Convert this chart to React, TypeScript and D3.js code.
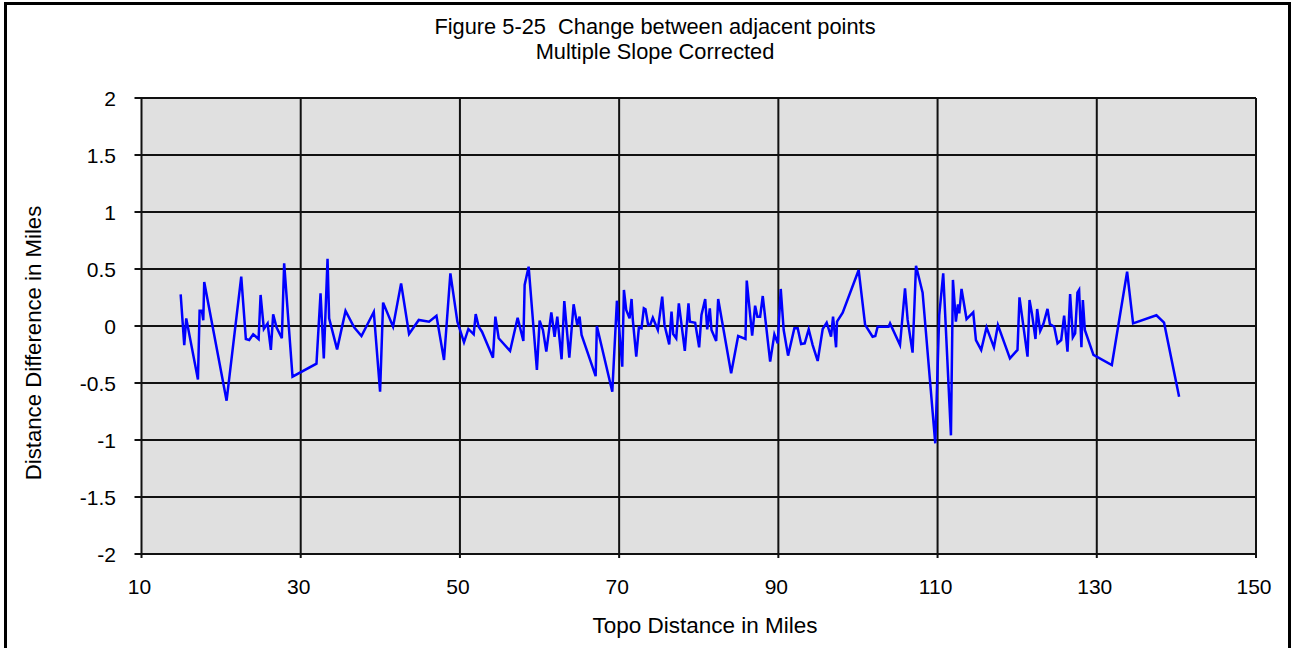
import * as d3 from 'd3';

// Topo distance (miles) and change between adjacent points (miles)
const topoMiles = [
  14.92, 15.37, 15.62, 17.09, 17.3, 17.59, 17.76, 17.88, 20.69, 22.53,
  23.11, 23.53, 24.03, 24.71, 24.96, 25.37, 25.84, 26.25, 26.54, 26.96,
  27.63, 27.92, 28.97, 31.98, 32.49, 32.9, 33.37, 33.57, 34.57, 35.63,
  36.71, 37.63, 39.18, 39.97, 40.35, 41.6, 42.61, 43.61, 44.83, 46.12,
  47.05, 48.0, 48.8, 49.68, 50.51, 51.06, 51.73, 51.98, 52.36, 52.77,
  54.15, 54.45, 54.87, 56.3, 57.25, 57.97, 58.13, 58.63, 59.67, 60.01,
  60.43, 60.85, 61.48, 61.89, 62.23, 62.77, 63.11, 63.74, 64.28, 64.74,
  65.03, 65.28, 67.05, 67.2, 69.14, 69.72, 70.39, 70.6, 70.89, 71.31,
  71.56, 71.72, 72.15, 72.48, 72.81, 73.1, 73.31, 73.65, 73.9, 74.23,
  74.86, 75.41, 75.7, 76.29, 76.58, 76.79, 77.17, 77.5, 78.25, 78.71,
  78.89, 79.55, 80.05, 80.34, 80.81, 81.06, 81.39, 81.6, 82.19, 82.44,
  82.94, 84.07, 84.95, 85.87, 86.03, 86.71, 87.08, 87.37, 87.71, 88.04,
  88.97, 89.5, 89.92, 90.3, 90.67, 91.22, 92.01, 92.43, 92.86, 93.31,
  93.81, 94.31, 94.94, 95.57, 96.07, 96.62, 96.87, 97.25, 97.37, 98.08,
  100.09, 100.9, 101.84, 102.18, 102.47, 103.85, 104.03, 105.28, 105.91, 106.24,
  106.86, 107.29, 108.12, 109.71, 110.21, 110.71, 111.68, 111.93, 112.3, 112.56,
  112.72, 113.01, 113.64, 114.48, 114.82, 115.48, 116.15, 117.08, 117.58, 119.09,
  120.04, 120.29, 121.3, 121.55, 121.85, 122.3, 122.51, 122.89, 123.3, 123.81,
  124.11, 124.65, 125.07, 125.53, 125.9, 126.32, 126.65, 126.99, 127.28, 127.57,
  127.78, 128.07, 128.25, 128.5, 129.58, 131.89, 133.81, 134.56, 137.49, 138.45,
  140.34,
];

const diffMiles = [
  0.278, -0.167, 0.067, -0.47, 0.134, 0.134, 0.05, 0.386, -0.655, 0.433,
  -0.114, -0.123, -0.073, -0.114, 0.272, -0.026, 0.023, -0.21, 0.102, -0.012,
  -0.108, 0.55, -0.444, -0.33, 0.287, -0.284, 0.59, 0.067, -0.205, 0.132,
  -0.012, -0.088, 0.123, -0.576, 0.205, -0.006, 0.374, -0.07, 0.053, 0.038,
  0.09, -0.298, 0.462, 0.038, -0.143, -0.026, -0.073, 0.105, -0.006, -0.05,
  -0.278, 0.082, -0.108, -0.219, 0.073, -0.132, 0.36, 0.52, -0.386, 0.047,
  -0.035, -0.225, 0.12, -0.094, 0.082, -0.292, 0.219, -0.278, 0.19, 0.009,
  0.082, -0.079, -0.44, 0.0, -0.576, 0.222, -0.357, 0.316, 0.14, 0.067,
  0.237, 0.053, -0.269, -0.012, -0.02, 0.155, 0.146, 0.006, 0.009, 0.073,
  -0.035, 0.257, 0.009, -0.161, 0.126, -0.07, -0.108, 0.199, -0.219, 0.199,
  0.038, 0.029, -0.187, 0.096, 0.237, -0.029, 0.155, -0.035, -0.132, 0.237,
  0.038, -0.415, -0.088, -0.114, 0.398, -0.085, 0.178, 0.082, 0.082, 0.263,
  -0.313, -0.073, -0.152, 0.325, -0.035, -0.26, -0.02, -0.02, -0.158, -0.152,
  -0.029, -0.167, -0.307, -0.026, 0.029, -0.094, 0.082, -0.187, 0.038, 0.117,
  0.491, 0.01, -0.094, -0.088, -0.006, -0.006, 0.023, -0.167, 0.33, 0.053,
  -0.234, 0.529, 0.292, -1.029, 0.096, 0.462, -0.959, 0.404, 0.038, 0.19,
  0.111, 0.325, 0.061, 0.12, -0.123, -0.21, -0.012, -0.187, 0.009, -0.284,
  -0.21, 0.251, -0.269, 0.228, 0.111, -0.114, 0.149, -0.044, 0.02, 0.15,
  0.018, -0.006, -0.152, -0.123, 0.09, -0.225, 0.281, -0.099, -0.064, 0.292,
  0.316, -0.187, 0.228, -0.035, -0.254, -0.342, 0.476, 0.023, 0.094, 0.029,
  -0.62,
];

const xTicks = [10, 30, 50, 70, 90, 110, 130, 150];
const yTicks = [-2, -1.5, -1, -0.5, 0, 0.5, 1, 1.5, 2];

const titleLines = ['Figure 5-25  Change between adjacent points', 'Multiple Slope Corrected'];
const xLabel = 'Topo Distance in Miles';
const yLabel = 'Distance Difference in Miles';

const W = 1291;
const H = 648;
const plot = { left: 141.5, right: 1256, top: 98, bottom: 554 };
const font = '"Liberation Sans", Arial, sans-serif';

export default function App() {
  const x = d3.scaleLinear().domain([10, 150]).range([plot.left, plot.right]);
  const y = d3.scaleLinear().domain([-2, 2]).range([plot.bottom, plot.top]);

  const points = topoMiles.map((m, i) => [m, diffMiles[i]] as [number, number]);
  const line = d3.line<[number, number]>()
    .x(d => x(d[0]))
    .y(d => y(d[1]));

  return (
    <svg width={W} height={H} style={{ position: 'absolute', left: 0, top: 0, background: '#fff' }} fontFamily={font}>
      {/* outer frame */}
      <rect x={5.5} y={3.5} width={1284} height={660} fill="none" stroke="#000" strokeWidth={3} />

      {/* title */}
      {titleLines.map((t, i) => (
        <text key={t} x={655} y={34 + i * 25} textAnchor="middle" fontSize={21.8} fill="#000" style={{ whiteSpace: 'pre' }}>{t}</text>
      ))}

      {/* plot area */}
      <rect x={plot.left} y={plot.top} width={plot.right - plot.left} height={plot.bottom - plot.top} fill="#e0e0e0" />

      {/* grid */}
      {yTicks.map(t => (
        <line key={'gy' + t} x1={plot.left - 7} x2={plot.right} y1={y(t)} y2={y(t)} stroke="#111" strokeWidth={2} />
      ))}
      {xTicks.map(t => (
        <line key={'gx' + t} x1={x(t)} x2={x(t)} y1={plot.top} y2={plot.bottom + 4} stroke="#111" strokeWidth={2} />
      ))}

      {/* data */}
      <path d={line(points) ?? ''} fill="none" stroke="#0000ff" strokeWidth={2.5} />

      {/* y tick labels */}
      {yTicks.map(t => (
        <text key={'ly' + t} x={116} y={y(t) + 7.5} textAnchor="end" fontSize={21} fill="#000">{t}</text>
      ))}
      {/* x tick labels */}
      {xTicks.map(t => (
        <text key={'lx' + t} x={x(t) - 2} y={594} textAnchor="middle" fontSize={21} fill="#000">{t}</text>
      ))}

      <text x={705} y={633} textAnchor="middle" fontSize={22.5} fill="#000">{xLabel}</text>
      <text transform={`translate(41,343) rotate(-90)`} textAnchor="middle" fontSize={22.2} fill="#000">{yLabel}</text>
    </svg>
  );
}
